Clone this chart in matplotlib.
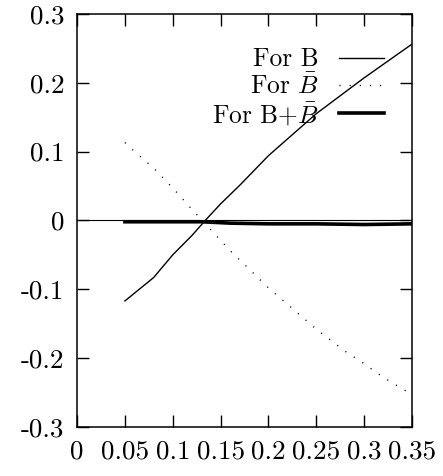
import numpy as np
import matplotlib
matplotlib.use('Agg')
import matplotlib.pyplot as plt

plt.rcParams['font.family'] = 'cmr10'
plt.rcParams['mathtext.fontset'] = 'cm'
plt.rcParams['axes.unicode_minus'] = False

# curve for B
xB = [0.05, 0.08, 0.10, 0.12, 0.134, 0.15, 0.17, 0.20, 0.25, 0.30, 0.35]
yB = [-0.117, -0.083, -0.050, -0.022, 0.0, 0.024, 0.051, 0.094, 0.155, 0.207, 0.256]

# curve for B bar
xBbar = [0.05, 0.06, 0.07, 0.08, 0.10, 0.12, 0.14, 0.16, 0.18, 0.20, 0.22, 0.25, 0.28, 0.30, 0.32, 0.35]
yBbar = [0.113, 0.100, 0.088, 0.076, 0.047, 0.016, -0.014, -0.044, -0.071, -0.098, -0.122, -0.158, -0.190, -0.208, -0.228, -0.253]

# sum B + B bar
xSum = [0.05, 0.10, 0.13, 0.16, 0.20, 0.25, 0.30, 0.35]
ySum = [-0.002, -0.002, -0.002, -0.004, -0.005, -0.005, -0.006, -0.005]

xticks = [0, 0.05, 0.1, 0.15, 0.2, 0.25, 0.3, 0.35]
xlabels = ['0', '0.05', '0.1', '0.15', '0.2', '0.25', '0.3', '0.35']
yticks = [-0.3, -0.2, -0.1, 0, 0.1, 0.2, 0.3]
ylabels = ['-0.3', '-0.2', '-0.1', '0', '0.1', '0.2', '0.3']

fig = plt.figure(figsize=(4.43, 4.76), dpi=100)
ax = fig.add_axes([0.174, 0.103, 0.756, 0.868])

ax.axhline(0, color='black', lw=0.8)
ax.plot(xB, yB, color='black', lw=1.0, label='For B')
ax.plot(xBbar, yBbar, color='black', lw=1.0, dashes=(0.8, 6.5), label=r'For $\bar{B}$')
ax.plot(xSum, ySum, color='black', lw=2.6, label=r'For B+$\bar{B}$')

ax.set_xlim(0, 0.35)
ax.set_ylim(-0.3, 0.3)
ax.set_xticks(xticks)
ax.set_xticklabels(xlabels)
ax.set_yticks(yticks)
ax.set_yticklabels(ylabels)
ax.tick_params(direction='in', length=8.5, width=1.0, top=True, right=True,
               labelsize=19.5)
ax.tick_params(axis='y', pad=9)
ax.tick_params(axis='x', pad=9)
for s in ax.spines.values():
    s.set_linewidth(1.1)

leg = ax.legend(loc='upper right', bbox_to_anchor=(0.915, 0.918), frameon=False,
                markerfirst=False, fontsize=18.3, handlelength=1.75,
                handletextpad=0.8, labelspacing=0.08, borderpad=0, borderaxespad=0)

fig.savefig('out.png', dpi=100)
